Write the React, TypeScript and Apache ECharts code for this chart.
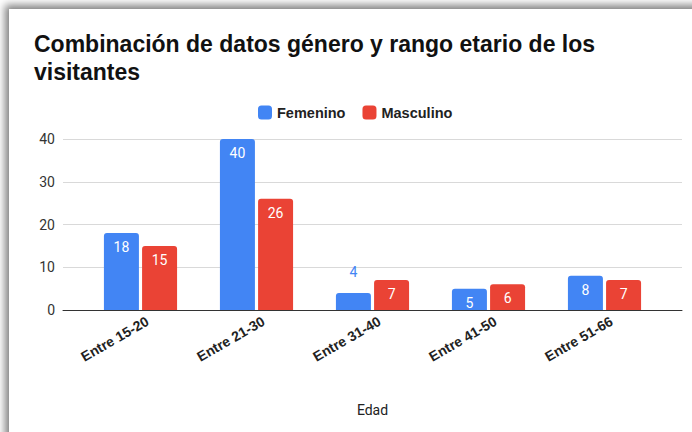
import React, { useEffect, useRef } from "react";
import * as echarts from "echarts";

const categories = ["Entre 15-20", "Entre 21-30", "Entre 31-40", "Entre 41-50", "Entre 51-66"];
const femenino = [18, 40, 4, 5, 8];
const masculino = [15, 26, 7, 6, 7];
const titleLines = ["Combinación de datos género y rango etario de los", "visitantes"];
const axisName = "Edad";

const BLUE = "#4285F4";
const RED = "#EA4335";
const FONT = "Liberation Sans, Arial, sans-serif";
const LABEL_FONT = "Roboto, Arial, sans-serif";

function makeData(values: number[], color: string) {
  return values.map((v) => {
    if (v < 5) {
      return {
        value: v,
        label: { position: "top", color, distance: 14 },
      };
    }
    return { value: v };
  });
}

export default function App() {
  const ref = useRef<HTMLDivElement>(null);
  useEffect(() => {
    if (!ref.current) return;
    const chart = echarts.init(ref.current, null, { renderer: "svg" });
    const barLabel = {
      show: true,
      position: "insideTop",
      distance: 7,
      color: "#ffffff",
      fontSize: 14,
      fontFamily: LABEL_FONT,
    };
    chart.setOption({
      animation: false,
      textStyle: { fontFamily: FONT },
      title: {
        text: titleLines.join("\n"),
        left: 29,
        top: 25,
        textStyle: {
          fontFamily: FONT,
          fontSize: 23,
          fontWeight: "bold",
          color: "#111111",
          lineHeight: 28,
        },
      },
      legend: {
        top: 100,
        left: 253,
        icon: "roundRect",
        itemWidth: 14,
        itemHeight: 14,
        itemGap: 17,
        textStyle: { fontFamily: FONT, fontSize: 14.5, fontWeight: "bold", color: "#222222" },
        data: ["Femenino", "Masculino"],
      },
      grid: [
        { left: 82.5, right: 29.5, top: 139, bottom: 122, containLabel: false },
        { left: 63, right: 10, top: 139, bottom: 122, containLabel: false },
      ],
      xAxis: [
        {
          type: "category",
          gridIndex: 0,
          data: categories,
          axisTick: { show: false },
          axisLine: { show: false },
          axisLabel: {
            rotate: 30,
            margin: 14,
            fontSize: 14,
            fontWeight: "bold",
            color: "#222222",
            fontFamily: FONT,
            interval: 0,
            padding: [0, -8, 0, 0],
          },
          name: axisName,
          nameLocation: "middle",
          nameGap: 93,
          nameTextStyle: { fontFamily: LABEL_FONT, fontSize: 14, color: "#222222" },
        },
        {
          type: "category",
          gridIndex: 1,
          data: categories,
          show: true,
          axisTick: { show: false },
          axisLabel: { show: false },
          axisLine: { show: true, lineStyle: { color: "#333333", width: 1 } },
        },
      ],
      yAxis: [
        {
          type: "value",
          gridIndex: 0,
          min: 0,
          max: 40,
          interval: 10,
          axisLabel: { show: false },
          splitLine: { show: false },
          axisLine: { show: false },
          axisTick: { show: false },
        },
        {
          type: "value",
          gridIndex: 1,
          min: 0,
          max: 40,
          interval: 10,
          axisLabel: { show: true, fontSize: 14, color: "#333333", margin: 8, fontFamily: LABEL_FONT },
          splitLine: { show: true, lineStyle: { color: "#d9d9d9", width: 1 } },
          axisLine: { show: false },
          axisTick: { show: false },
          z: 0,
        },
      ],
      series: [
        {
          name: "Femenino",
          type: "bar",
          xAxisIndex: 0,
          yAxisIndex: 0,
          data: makeData(femenino, BLUE),
          barWidth: 35,
          barGap: "9%",
          itemStyle: { color: BLUE, borderRadius: [3, 3, 0, 0] },
          label: barLabel,
          z: 3,
        },
        {
          name: "Masculino",
          type: "bar",
          xAxisIndex: 0,
          yAxisIndex: 0,
          data: makeData(masculino, RED),
          barWidth: 35,
          barGap: "9%",
          itemStyle: { color: RED, borderRadius: [3, 3, 0, 0] },
          label: barLabel,
          z: 3,
        },
      ],
    });
    return () => chart.dispose();
  }, []);

  return (
    <div
      style={{
        position: "absolute",
        left: 0,
        top: 0,
        width: 692,
        height: 432,
        overflow: "hidden",
        background: "#ffffff",
      }}
    >
      <div
        style={{
          position: "absolute",
          left: 9,
          top: 9,
          width: 720,
          height: 460,
          background: "#ffffff",
          boxShadow: "0 0 8px 4px rgba(0,0,0,0.5)",
        }}
      />
      <div ref={ref} style={{ position: "absolute", left: 0, top: 0, width: 692, height: 432 }} />
    </div>
  );
}
